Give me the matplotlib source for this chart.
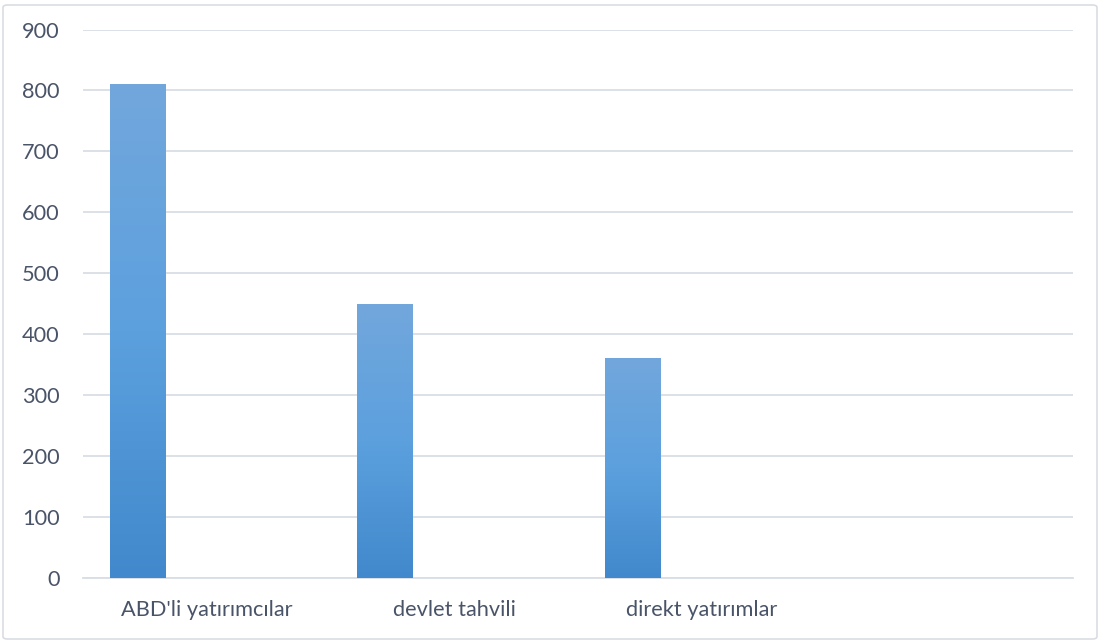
import numpy as np
import matplotlib.pyplot as plt
from matplotlib.patches import FancyBboxPatch
from matplotlib.colors import LinearSegmentedColormap

# veriler
kategoriler = ["ABD'li yatırımcılar", "devlet tahvili", "direkt yatırımlar", ""]
degerler = [810, 450, 360, 0]
y_ticks = [0, 100, 200, 300, 400, 500, 600, 700, 800, 900]

plt.rcParams['font.family'] = ['Lato', 'DejaVu Sans']
text_color = '#4a5468'
grid_color = '#d9dee6'

fig = plt.figure(figsize=(11.03, 6.42), dpi=100)
ax = fig.add_axes([83 / 1103, 1 - 577.5 / 642, 990 / 1103, 548 / 642])

x = np.arange(len(kategoriler))
bar_w = 0.226
offset = -0.278

bars = ax.bar(x + offset, degerler, width=bar_w, color='none', zorder=3)

# dikey gradyan (üst açık, alt koyu)
cmap = LinearSegmentedColormap.from_list('mavi', ['#4189cc', '#5ca0de', '#72a7dc'])
grad = np.linspace(0, 1, 256).reshape(-1, 1)
for b in bars:
    if b.get_height() <= 0:
        continue
    x0, y0 = b.get_x(), b.get_y()
    w, h = b.get_width(), b.get_height()
    ax.imshow(grad, cmap=cmap, origin='lower', aspect='auto',
              extent=(x0, x0 + w, y0, y0 + h), zorder=3)

ax.set_xlim(-0.5, len(kategoriler) - 0.5)
ax.set_ylim(0, 900)
ax.set_yticks(y_ticks)
ax.set_xticks(x)
ax.set_xticklabels(kategoriler)

ax.grid(axis='y', color=grid_color, linewidth=1.3, zorder=0)
ax.set_axisbelow(True)
for s in ['top', 'right', 'left']:
    ax.spines[s].set_visible(False)
ax.spines['bottom'].set_color(grid_color)
ax.spines['bottom'].set_linewidth(1.3)
ax.tick_params(axis='both', length=0, labelsize=15.7, colors=text_color)
ax.tick_params(axis='y', pad=17)
ax.tick_params(axis='x', pad=16)

# dış çerçeve
border = FancyBboxPatch((3 / 1103, 3 / 642), 1094 / 1103, 634 / 642,
                        boxstyle='round,pad=0,rounding_size=0.004',
                        transform=fig.transFigure, fill=False,
                        edgecolor='#d9dde3', linewidth=1.2)
fig.patches.append(border)

fig.savefig('out.png', dpi=100)
